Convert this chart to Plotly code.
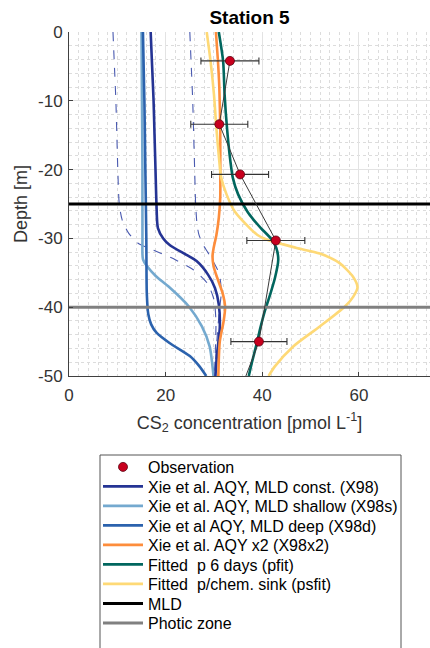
import plotly.graph_objects as go

# ---------------- data ----------------
obs_depth = [-4.2, -13.4, -20.7, -30.3, -45.0]
obs_conc = [33.3, 31.1, 35.4, 42.8, 39.3]
obs_err = [6.0, 5.9, 5.9, 6.0, 5.8]
obs_line_depth = [-4.2, -13.4, -20.7, -30.3, -45.0, -50.0]
obs_line_conc = [33.3, 31.1, 35.4, 42.8, 39.3, 36.6]

x98_depth = [0, -5, -10, -15, -20, -25, -28.5, -30, -31, -32.4, -33.3, -35.3, -37.2, -39.6, -43, -47, -50]
x98_conc = [16.9, 17.2, 17.5, 17.7, 17.9, 18.1, 18.4, 19.5, 20.9, 24.3, 26.4, 28.8, 30.2, 31.0, 31.2, 30.6, 30.3]

x98s_depth = [0, -10, -20, -30, -33, -34.1, -35.5, -37, -39.9, -42.8, -45.7, -50]
x98s_conc = [15.0, 15.1, 15.2, 15.2, 15.3, 16.2, 18.0, 20.6, 24.8, 27.5, 29.1, 29.9]

x98d_depth = [0, -10, -20, -30, -38, -41, -42.5, -43.7, -45.2, -47.1, -48.6, -50]
x98d_conc = [15.3, 15.6, 15.8, 16.0, 16.1, 16.4, 17.0, 18.1, 20.8, 25.0, 27.0, 28.4]

x98lo_depth = [0, -5, -10, -15, -20, -25, -27.3, -29.2, -30.7, -31.7, -33.1, -34.6, -36.5, -38.9, -42, -46, -50]
x98lo_conc = [9.1, 9.4, 9.7, 9.9, 10.1, 10.4, 11.0, 12.3, 14.3, 17.5, 22.0, 25.8, 28.6, 30.0, 30.4, 30.3, 30.1]

x98hi_depth = [0, -5, -10, -15, -20, -25, -28, -29.5, -31, -32, -33.3, -34.5, -36, -38, -40, -43, -47, -50]
x98hi_conc = [25.0, 25.3, 25.6, 25.8, 26.0, 26.2, 26.5, 26.9, 27.8, 28.7, 29.8, 30.7, 31.3, 31.5, 31.2, 30.8, 30.4, 30.2]

x98x2_depth = [0, -4, -8, -14, -20, -24, -27, -29.5, -31.5, -32.5, -34, -36, -38, -40, -42, -45, -50]
x98x2_conc = [30.4, 30.8, 31.1, 31.3, 31.3, 31.3, 31.0, 30.5, 29.9, 29.7, 29.9, 30.8, 31.8, 32.3, 32.0, 31.2, 30.9]

pfit_depth = [0, -4.3, -9.1, -14, -18.8, -21.2, -23.6, -26.1, -27.3, -28.5, -30.2, -31.4, -33.1, -35.8, -38.2, -40.6, -43, -45.4, -47.9, -50]
pfit_conc = [31.0, 31.9, 32.2, 32.7, 33.4, 33.9, 35.0, 36.9, 38.2, 39.7, 42.0, 42.9, 43.3, 42.6, 41.6, 40.5, 39.6, 38.8, 37.9, 37.2]

psfit_depth = [0, -4.3, -9.1, -14, -18.8, -21.2, -23.6, -26.1, -28.5, -29.5, -30.2, -30.8, -31.4, -32.2, -33.6, -35.6, -37.1, -38.5, -39.9, -42.8, -45.7, -48.6, -50]
psfit_conc = [28.5, 29.3, 30.0, 30.5, 31.1, 31.5, 32.6, 34.3, 37.4, 39.0, 41.0, 44.0, 47.1, 51.9, 56.0, 58.8, 59.7, 58.8, 57.1, 51.9, 46.4, 42.6, 41.3]

mld_depth = -25
photic_depth = -40
x_range = [0, 74.7]
y_range = [-50, 0]

x_ticks = [0, 20, 40, 60]
y_ticks = [0, -10, -20, -30, -40, -50]

legend_labels = [
    "Observation",
    "Xie et al. AQY, MLD const. (X98)",
    "Xie et al. AQY, MLD shallow (X98s)",
    "Xie et al AQY, MLD deep (X98d)",
    "Xie et al. AQY x2 (X98x2)",
    "Fitted  p 6 days (pfit)",
    "Fitted  p/chem. sink (psfit)",
    "MLD",
    "Photic zone",
]

FONT = "Liberation Sans, Arial, Helvetica, sans-serif"

# layout geometry (pixels)
W, H = 430, 648
ML, MT = 69, 32
PLOT_W, PLOT_H = W - ML, 376 - MT


def px_to_paper_x(px):
    return (px - ML) / PLOT_W


def px_to_paper_y(py):
    return (MT + PLOT_H - py) / PLOT_H


fig = go.Figure()
legend_ids = ["legend"] + ["legend%d" % i for i in range(2, 10)]


def curve(x, y, idx, color, width=2.6, dash=None):
    show = idx is not None
    fig.add_trace(go.Scatter(
        x=x, y=y, mode="lines",
        name=legend_labels[idx] if show else "",
        line=dict(color=color, width=width, shape="spline", smoothing=0.7, dash=dash),
        showlegend=show, legend=legend_ids[idx] if show else "legend",
        hoverinfo="skip" if not show else None,
    ))


curve(x98lo_conc, x98lo_depth, None, "#4a5ab0", width=1.1, dash="dash")
curve(x98hi_conc, x98hi_depth, None, "#4a5ab0", width=1.1, dash="dash")
curve(x98s_conc, x98s_depth, 2, "#74a9cf")
curve(x98d_conc, x98d_depth, 3, "#2b62ad")
curve(x98_conc, x98_depth, 1, "#253494")
curve(x98x2_conc, x98x2_depth, 4, "#fd8d3c")
curve(psfit_conc, psfit_depth, 6, "#fed976")
curve(pfit_conc, pfit_depth, 5, "#01665e")

fig.add_trace(go.Scatter(
    x=[0, 80], y=[mld_depth, mld_depth], mode="lines", name=legend_labels[7],
    line=dict(color="black", width=3), legend=legend_ids[7]))
fig.add_trace(go.Scatter(
    x=[0, 80], y=[photic_depth, photic_depth], mode="lines", name=legend_labels[8],
    line=dict(color="#808080", width=3), legend=legend_ids[8]))

fig.add_trace(go.Scatter(
    x=obs_line_conc, y=obs_line_depth, mode="lines", showlegend=False,
    line=dict(color="#3a3a3a", width=1)))
fig.add_trace(go.Scatter(
    x=obs_conc, y=obs_depth, mode="markers", name=legend_labels[0],
    marker=dict(color="#c8001e", size=9, line=dict(color="#5a0010", width=0.8)),
    error_x=dict(type="data", array=obs_err, color="#333333", thickness=1.1, width=3.5),
    legend=legend_ids[0]))

# one single-row legend per entry so the rows can sit at the reference spacing
row0, row_gap = 467, 19.5
legend_layout = {}
for i, lid in enumerate(legend_ids):
    legend_layout[lid] = dict(
        x=px_to_paper_x(98), y=px_to_paper_y(row0 + row_gap * i),
        xanchor="left", yanchor="middle", xref="paper", yref="paper",
        bgcolor="rgba(0,0,0,0)", borderwidth=0, itemwidth=40,
        font=dict(family=FONT, size=16, color="black"),
    )

fig.update_layout(
    width=W, height=H,
    margin=dict(l=ML, r=0, t=MT, b=H - 376),
    paper_bgcolor="white", plot_bgcolor="white",
    font=dict(family=FONT, size=17, color="#333333"),
    title=dict(text="<b>Station 5</b>", x=0.5, xref="paper", xanchor="center",
               y=1 - 17 / H, yref="container", yanchor="middle",
               font=dict(family=FONT, size=19, color="black")),
    showlegend=True,
    shapes=[dict(type="rect", xref="paper", yref="paper",
                 x0=px_to_paper_x(100), x1=px_to_paper_x(401),
                 y0=px_to_paper_y(455), y1=px_to_paper_y(700),
                 line=dict(color="#555555", width=1), fillcolor="white", layer="below")],
    **legend_layout,
)

fig.update_xaxes(
    range=x_range, tickvals=x_ticks, ticktext=[str(t) for t in x_ticks],
    showline=True, linecolor="#404040", linewidth=1,
    ticks="inside", ticklen=4, tickcolor="#404040", ticklabelstandoff=4,
    showgrid=True, gridcolor="#e3e3e3", gridwidth=1, zeroline=False,
    minor=dict(dtick=2, showgrid=True, gridcolor="#dcdcdc", griddash="dot", gridwidth=1),
    title=dict(text="CS<sub>2</sub> concentration [pmol L<sup>-1</sup>]", standoff=11,
               font=dict(size=18, color="#333333")),
    tickfont=dict(size=17, color="#333333"),
)
fig.update_yaxes(
    range=y_range, tickvals=y_ticks, ticktext=[str(t) for t in y_ticks],
    showline=True, linecolor="#404040", linewidth=1,
    ticks="inside", ticklen=4, tickcolor="#404040", ticklabelstandoff=2,
    showgrid=True, gridcolor="#e3e3e3", gridwidth=1, zeroline=False,
    minor=dict(dtick=2, showgrid=True, gridcolor="#dcdcdc", griddash="dot", gridwidth=1),
    title=dict(text="Depth [m]", standoff=5, font=dict(size=18, color="#333333")),
    tickfont=dict(size=17, color="#333333"),
)

fig.write_html("out.html")
